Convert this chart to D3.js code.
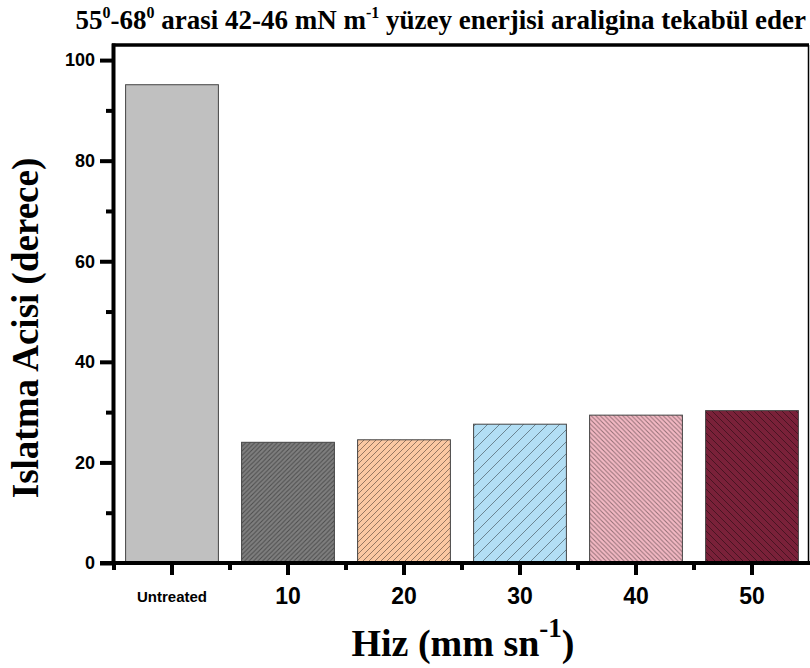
<!DOCTYPE html>
<html>
<script src="https://cdn.jsdelivr.net/npm/d3@7"></script>
<body style="margin:0;background:white">
<div id="chart"></div>
<script>

// values
var categories = ["Untreated", "10", "20", "30", "40", "50"];
var angles = [95.1, 24.0, 24.5, 27.6, 29.4, 30.3];
var yTicks = [0, 20, 40, 60, 80, 100];
var yMinor = [10, 30, 50, 70, 90];

// bar looks (fill, hatch direction, hatch spacing)
var fills = ["#c0c0c0", "#7f7f7f", "#fbc8a2", "#b2def4", "#f4b9c4", "#7a2139"];
var hatchDir = [null, "/", "/", "/", "\\", "\\"];
var hatchGap = [0, 4.5, 6, 12, 4.5, 7];

var width = 810,
    height = 668;

var svg = d3.select("#chart")
    .append("svg")
    .attr("width", width)
    .attr("height", height)
    .style("display", "block")

var x = d3.scaleBand()
    .domain(categories)
    .range([114, 810])
    .paddingInner(0.2)
    .paddingOuter(0.1)

var y = d3.scaleLinear()
    .domain([0, 103])
    .range([563, 45])

// hatch patterns
var defs = svg.append("defs")
categories.forEach(function(c, i) {
    if (!hatchDir[i]) return
    var p = hatchGap[i]
    var pat = defs.append("pattern")
        .attr("id", "hatch" + i)
        .attr("patternUnits", "userSpaceOnUse")
        .attr("width", p)
        .attr("height", p)
    pat.append("rect").attr("width", p).attr("height", p).attr("fill", fills[i])
    var d = hatchDir[i] == "/"
        ? "M0," + p + "L" + p + ",0 M-1,1 L1,-1 M" + (p - 1) + "," + (p + 1) + " L" + (p + 1) + "," + (p - 1)
        : "M0,0 L" + p + "," + p + " M-1," + (p - 1) + " L1," + (p + 1) + " M" + (p - 1) + ",-1 L" + (p + 1) + ",1"
    pat.append("path")
        .attr("d", d)
        .attr("stroke", "#000")
        .attr("stroke-opacity", 0.4)
        .attr("stroke-width", 1)
})

// bars
svg.selectAll(".bar")
    .data(angles)
    .enter()
    .append("rect")
    .attr("class", "bar")
    .attr("x", function(d, i) { return x(categories[i]) })
    .attr("width", x.bandwidth())
    .attr("y", function(d) { return y(d) })
    .attr("height", function(d) { return y(0) - y(d) })
    .attr("fill", function(d, i) { return hatchDir[i] ? "url(#hatch" + i + ")" : fills[i] })
    .attr("stroke", "#444")
    .attr("stroke-width", 1)

// frame top and right
svg.append("line").attr("x1", 112).attr("x2", 809).attr("y1", y(103)).attr("y2", y(103))
    .attr("stroke", "#000").attr("stroke-width", 3.5)
svg.append("line").attr("x1", 808.5).attr("x2", 808.5).attr("y1", y(103)).attr("y2", y(0))
    .attr("stroke", "#000").attr("stroke-width", 1.5)

// y axis
var yAxis = svg.append("g")
    .attr("transform", "translate(113,0)")
    .call(d3.axisLeft(y).tickValues(yTicks).tickSize(13).tickSizeOuter(0).tickPadding(5))
yAxis.select(".domain").attr("d", "M0.5," + (y(0) + 2) + "V" + (y(103) - 1.5))
yAxis.selectAll(".domain, .tick line")
    .attr("stroke", "#000")
    .attr("stroke-width", 4)
yAxis.selectAll("text")
    .style("font-family", "'Liberation Sans', Arial, sans-serif")
    .style("font-weight", "bold")
    .style("font-size", "18px")
    .attr("fill", "#000")
svg.append("g")
    .attr("transform", "translate(113,0)")
    .call(d3.axisLeft(y).tickValues(yMinor).tickSize(7).tickFormat(""))
    .call(function(g) { g.select(".domain").remove() })
    .selectAll("line")
    .attr("stroke", "#000")
    .attr("stroke-width", 4)

// x axis
var xAxis = svg.append("g")
    .attr("transform", "translate(0," + y(0) + ")")
    .call(d3.axisBottom(x).tickSize(12).tickSizeOuter(0).tickPadding(12))
xAxis.select(".domain").attr("d", "M100,0H810")
xAxis.selectAll(".domain, .tick line")
    .attr("stroke", "#000")
    .attr("stroke-width", 4)
xAxis.selectAll("text")
    .style("font-family", "'Liberation Sans', Arial, sans-serif")
    .style("font-weight", "bold")
    .style("font-size", function(d) { return d == "Untreated" ? "15px" : "23px" })
    .attr("dy", function(d) { return d == "Untreated" ? "1.0em" : "0.72em" })
    .attr("fill", "#000")

// minor x ticks between the bars
var bounds = categories.map(function(c) { return x(c) - x.step() * x.paddingInner() / 2 })
svg.selectAll(".xminor")
    .data(bounds)
    .enter()
    .append("line")
    .attr("class", "xminor")
    .attr("x1", function(d, i) { return i == 0 ? 114 : d })
    .attr("x2", function(d, i) { return i == 0 ? 114 : d })
    .attr("y1", y(0))
    .attr("y2", y(0) + 7)
    .attr("stroke", "#000")
    .attr("stroke-width", 4)

// titles
var serif = "'Liberation Serif', 'Times New Roman', serif"
var title = svg.append("text")
    .attr("x", 806)
    .attr("y", 29)
    .attr("text-anchor", "end")
    .style("font-family", serif)
    .style("font-weight", "bold")
    .style("font-size", "27px")
title.append("tspan").text("55")
title.append("tspan").text("0").attr("dy", -11).style("font-size", "16px")
title.append("tspan").text("-68").attr("dy", 11)
title.append("tspan").text("0").attr("dy", -11).style("font-size", "16px")
title.append("tspan").text(" arasi 42-46 mN m").attr("dy", 11)
title.append("tspan").text("-1").attr("dy", -11).style("font-size", "16px")
title.append("tspan").text(" yüzey enerjisi araligina tekabül eder").attr("dy", 11)

svg.append("text")
    .attr("transform", "translate(38,328) rotate(-90)")
    .attr("text-anchor", "middle")
    .style("font-family", serif)
    .style("font-weight", "bold")
    .style("font-size", "37px")
    .text("Islatma Acisi (derece)")

var xlab = svg.append("text")
    .attr("x", 463)
    .attr("y", 656)
    .attr("text-anchor", "middle")
    .style("font-family", serif)
    .style("font-weight", "bold")
    .style("font-size", "38px")
xlab.append("tspan").text("Hiz (mm sn")
xlab.append("tspan").text("-1").attr("dy", -19).style("font-size", "27px")
xlab.append("tspan").text(")").attr("dy", 19)

</script>
</body>
</html>
